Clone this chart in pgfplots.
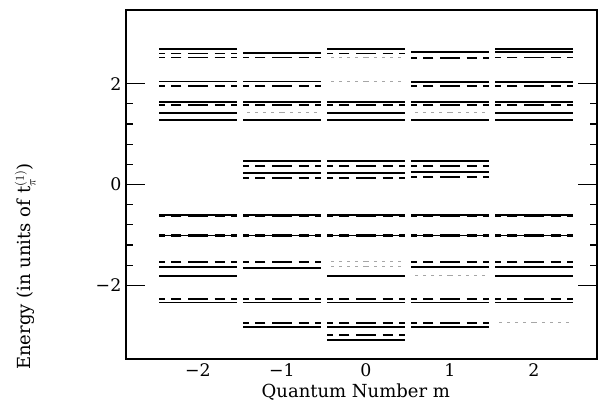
\documentclass[border=0pt]{standalone}
\usepackage{pgfplots}
\pgfplotsset{compat=1.18}
\usepackage{pgfplotstable}
\usepackage{fontspec}
\setmainfont{DejaVu Serif}

% energy levels: m E
\pgfplotstableread{
m E
-2 2.68
-2 2.04
-2 1.64
-2 1.42
-2 1.28
-2 -0.61
-2 -1.01
-2 -1.63
-2 -1.81
-2 -2.34
-1 2.61
-1 2.04
-1 1.64
-1 1.28
-1 0.47
-1 0.23
-1 -0.61
-1 -1.01
-1 -1.65
-1 -2.34
-1 -2.83
0 2.68
0 1.64
0 1.42
0 1.28
0 0.47
0 0.23
0 -0.61
0 -1.01
0 -1.81
0 -2.34
0 -2.83
0 -3.08
1 2.62
1 2.03
1 1.64
1 1.28
1 0.47
1 0.25
1 -0.61
1 -1.01
1 -1.63
1 -2.34
1 -2.83
2 2.68
2 2.62
2 2.03
2 1.64
2 1.42
2 1.28
2 -0.61
2 -1.01
2 -1.63
2 -1.81
2 -2.34
}\solidlev

\pgfplotstableread{
m E
-2 2.60
-2 2.52
-2 1.96
-2 1.57
-2 -1.53
-2 -2.27
-1 2.52
-1 1.96
-1 1.58
-1 0.37
-1 0.13
-1 -1.53
-1 -2.27
-1 -2.74
0 2.60
0 1.57
0 0.37
0 0.13
0 -2.27
0 -2.74
0 -2.98
1 2.51
1 1.96
1 1.57
1 0.37
1 0.15
1 -1.53
1 -2.27
1 -2.74
2 2.52
2 1.96
2 1.57
2 -1.53
2 -2.27
}\dashedlev

\pgfplotstableread{
m E
-2 -0.61
-2 -1.01
-1 -0.61
-1 -1.01
0 -0.61
0 -1.01
1 -0.61
1 -1.01
2 -0.61
2 -1.01
}\degenlev

\pgfplotstableread{
m E
-1 1.42
1 1.42
0 2.04
0 2.52
0 -1.53
0 -1.63
1 -1.81
2 -2.74
}\faintlev

\pgfplotsset{
  lev/.style={draw=none, mark=none,
    error bars/.cd, x dir=both, x fixed=0.46, error mark=none},
}

\begin{document}
\begin{tikzpicture}
\useasboundingbox (-94.5pt,-33.75pt) rectangle (354pt,269.25pt);
\begin{axis}[
    scale only axis,
    width=353.25pt, height=261.75pt,
    xmin=-2.857, xmax=2.75,
    ymin=-3.46, ymax=3.46,
    axis line style={line width=1.2pt},
    xtick={-2,-1,0,1,2},
    xticklabels={−2,−1,0,1,2},
    xtick style={draw=none},
    ytick={-2,0,2},
    yticklabels={−2,0,2},
    minor y tick num=4,
    ytick style={line width=0.9pt, black},
    major tick length=14pt,
    minor tick length=5pt,
    tick label style={font=\fontsize{13}{15}\selectfont},
    xlabel={Quantum Number m},
    ylabel={Energy (in units of t$_{\pi}^{(1)}$)},
    every axis x label/.style={at={(axis description cs:0.488,-0.095)}, anchor=center,
      font=\fontsize{13.5}{15}\selectfont},
    every axis y label/.style={at={(axis description cs:-0.214,0.265)}, rotate=90, anchor=center,
      font=\fontsize{13.5}{15}\selectfont},
]
\addplot[lev, error bar style={draw=black, line width=1.3pt, solid}] table[x=m, y=E] {\solidlev};
\addplot[lev, error bar style={draw=black, line width=1.3pt, dash pattern=on 7.5pt off 5pt}] table[x=m, y=E] {\dashedlev};
\addplot[lev, error bar style={draw=black, line width=2.6pt, dash pattern=on 7.5pt off 5pt}] table[x=m, y=E] {\degenlev};
\addplot[lev, error bar style={draw=gray!70, line width=0.7pt, dash pattern=on 2pt off 4pt}] table[x=m, y=E] {\faintlev};
\end{axis}
\end{tikzpicture}
\end{document}
